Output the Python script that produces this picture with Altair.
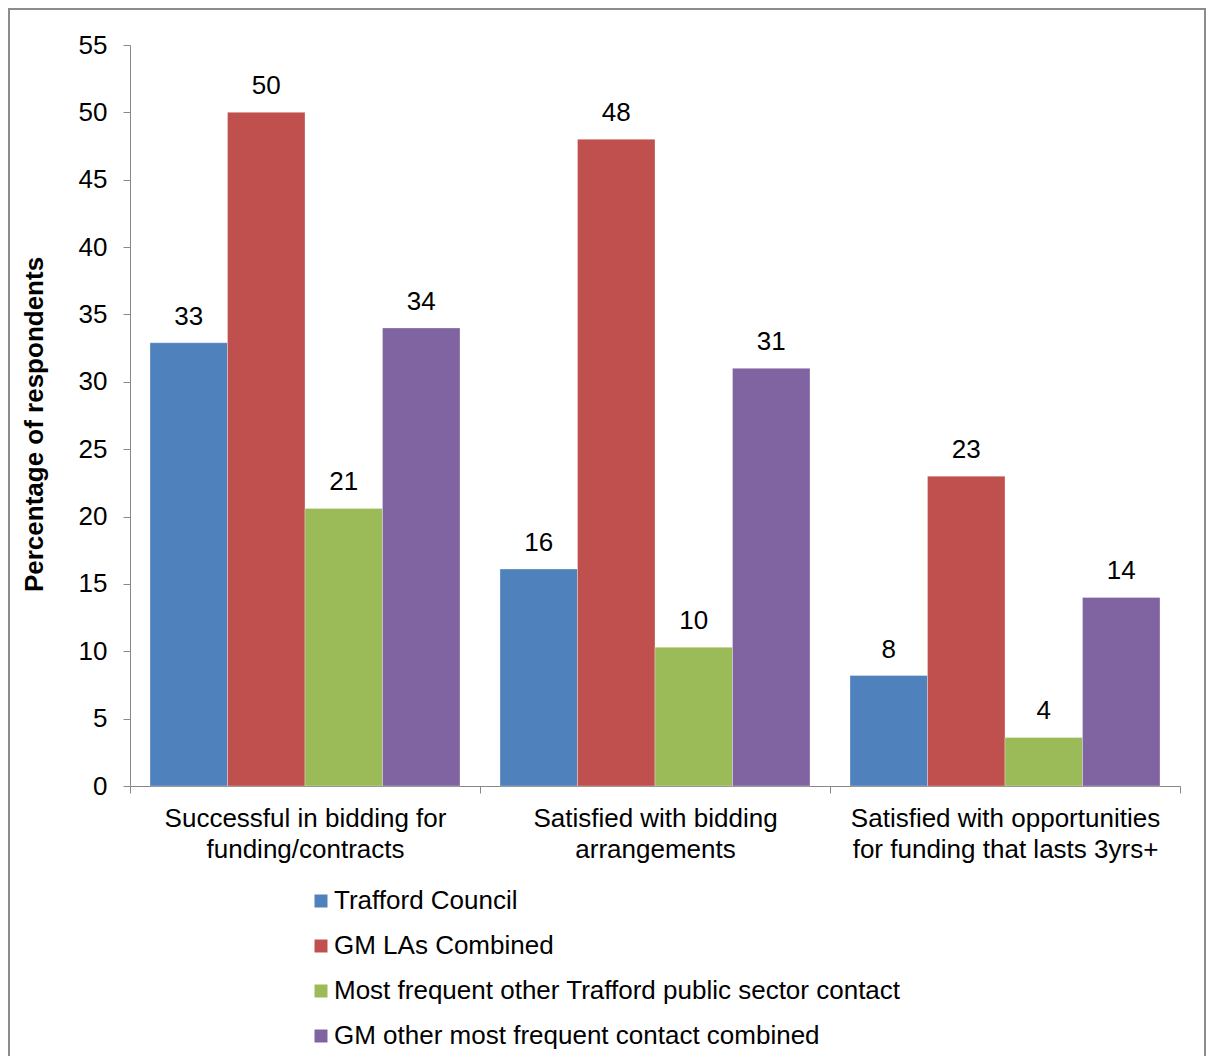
import altair as alt
import pandas as pd

categories = [
    "Successful in bidding for|funding/contracts",
    "Satisfied with bidding|arrangements",
    "Satisfied with opportunities|for funding that lasts 3yrs+",
]
series = [
    "Trafford Council",
    "GM LAs Combined",
    "Most frequent other Trafford public sector contact",
    "GM other most frequent contact combined",
]
trafford = [32.9, 16.1, 8.2]
gm_las = [50.0, 48.0, 23.0]
other_trafford = [20.6, 10.3, 3.6]
gm_other = [34.0, 31.0, 14.0]
colors = ["#4F81BD", "#C0504D", "#9BBB59", "#8064A2"]
y_ticks = list(range(0, 56, 5))

rows = []
for s, vals in zip(series, [trafford, gm_las, other_trafford, gm_other]):
    for c, v in zip(categories, vals):
        rows.append({"category": c, "series": s, "value": v})
df = pd.DataFrame(rows)

FONT = "Liberation Sans"
FS = 26

x_enc = alt.X(
    "category:N",
    sort=categories,
    scale=alt.Scale(paddingInner=0, paddingOuter=0),
    axis=alt.Axis(
        title=None,
        labelAngle=0,
        labelExpr="split(datum.label, '|')",
        labelFontSize=FS,
        labelLineHeight=31,
        labelPadding=12,
        labelColor="#000000",
        labelFont=FONT,
        tickBand="extent",
        tickSize=7,
        tickColor="#888888",
        domainColor="#888888",
        labelLimit=400,
    ),
)
xoff_enc = alt.XOffset(
    "series:N",
    sort=series,
    scale=alt.Scale(paddingInner=0, paddingOuter=0.258),
)
y_enc = alt.Y(
    "value:Q",
    scale=alt.Scale(domain=[0, 55], nice=False),
    axis=alt.Axis(
        title="Percentage of respondents",
        titleFontSize=FS,
        titleFontWeight="bold",
        titleFont=FONT,
        titleColor="#000000",
        titlePadding=31,
        titleY=379,
        values=y_ticks,
        labelFontSize=FS,
        labelFont=FONT,
        labelColor="#000000",
        labelPadding=16,
        tickSize=7,
        tickColor="#888888",
        domainColor="#888888",
        grid=False,
    ),
)

bars = alt.Chart(df).mark_bar(stroke="#ffffff", strokeWidth=0.6, strokeOpacity=0.5).encode(
    x=x_enc,
    xOffset=xoff_enc,
    y=y_enc,
    color=alt.Color(
        "series:N",
        sort=series,
        scale=alt.Scale(domain=series, range=colors),
        legend=alt.Legend(
            title=None,
            orient="none",
            legendX=178,
            legendY=843,
            direction="vertical",
            symbolType="square",
            symbolSize=169,
            symbolStrokeWidth=0,
            labelFontSize=FS,
            labelFont=FONT,
            labelColor="#000000",
            labelOffset=0,
            rowPadding=19,
            labelLimit=800,
        ),
    ),
)

labels = alt.Chart(df).mark_text(
    baseline="middle", dy=-26, fontSize=FS, font=FONT, color="#000000"
).encode(
    x=alt.X("category:N", sort=categories),
    xOffset=alt.XOffset("series:N", sort=series),
    y=alt.Y("value:Q"),
    text=alt.Text("value:Q", format=".0f"),
)

border = alt.Chart(pd.DataFrame({"a": [0]})).mark_rect(
    fill=None, stroke="#8c8c8c", strokeWidth=2
).encode(
    x=alt.value(-121), x2=alt.value(1075), y=alt.value(-36), y2=alt.value(1100)
)

chart = alt.layer(bars, labels, border).properties(
    width=1050,
    height=741,
    autosize=alt.AutoSizeParams(type="none"),
    padding={"left": 122, "top": 37, "right": 26, "bottom": 270},
).configure(font=FONT).configure_view(stroke=None)

chart.save("out.html", embed_options={"renderer": "svg", "actions": False})
